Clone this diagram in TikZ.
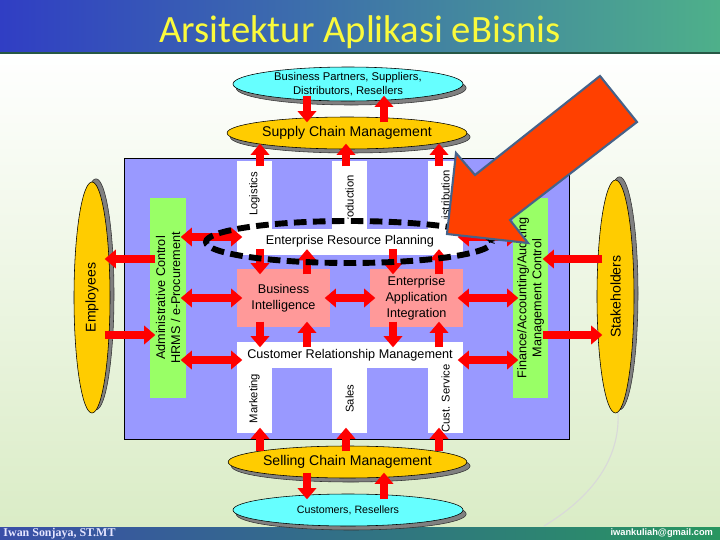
\documentclass[tikz,border=0pt]{standalone}
\usepackage{fontspec}
\usepackage{graphicx}
\setmainfont{Liberation Sans}
\newfontfamily\ttlfont{Carlito}
\newfontfamily\authfont{Liberation Serif}
\usetikzlibrary{shapes.geometric, arrows.meta, shadows}

\definecolor{barblue}{RGB}{48,62,196}
\definecolor{barmid}{RGB}{44,146,204}
\definecolor{bargreen}{RGB}{78,176,138}
\definecolor{footblue}{RGB}{58,78,168}
\definecolor{footmid}{RGB}{40,140,150}
\definecolor{footgreen}{RGB}{40,150,96}
\definecolor{ttlyellow}{RGB}{250,250,60}
\definecolor{bggreen}{RGB}{218,236,198}
\definecolor{coreblue}{RGB}{153,153,255}
\definecolor{boxpink}{RGB}{255,153,153}
\definecolor{boxgreen}{RGB}{153,255,102}
\definecolor{ellyellow}{RGB}{255,204,0}
\definecolor{ellcyan}{RGB}{102,255,255}
\definecolor{bigred}{RGB}{255,64,0}
\definecolor{bigedge}{RGB}{70,98,137}

\tikzset{
  ellbox/.style={ellipse, draw=black, thin, inner sep=0pt},
  hshade/.style={drop shadow={shadow xshift=0.08cm, shadow yshift=-0.1cm, fill=black!50, draw=black!80, opacity=1}},
  vshade/.style={drop shadow={shadow xshift=0.1cm, shadow yshift=0.08cm, fill=black!50, draw=black!80, opacity=1}},
  whitebox/.style={rectangle, fill=white, inner sep=0pt},
  colbox/.style={whitebox, minimum width=0.875cm},
  bandbox/.style={whitebox, minimum width=5.65cm, minimum height=0.65cm, font=\fontsize{9}{11}\selectfont},
  pinkbx/.style={rectangle, fill=boxpink, minimum width=2.325cm, minimum height=1.45cm, align=center, inner sep=0pt, font=\fontsize{9}{11.5}\selectfont},
  greenbx/.style={rectangle, fill=boxgreen, minimum height=5cm, inner sep=0pt},
  coltxt/.style={rotate=90, inner sep=0pt, font=\fontsize{8}{10}\selectfont},
  sidetxt/.style={rotate=90, align=center, inner sep=0pt, font=\fontsize{9}{10.7}\selectfont},
  rarr/.style={draw=red, line width=5.6pt, -{Triangle[width=13pt, length=8pt]}, shorten >=-4pt, shorten <=-4pt},
  rdarr/.style={rarr, {Triangle[width=13pt, length=8pt]}-{Triangle[width=13pt, length=8pt]}},
  ring/.style={ellipse, draw=black, line width=4.2pt, dash pattern=on 9pt off 4.5pt, minimum width=7.15cm, minimum height=1.05cm},
}

\begin{document}
\begin{tikzpicture}
  \useasboundingbox (0,0) rectangle (18,-13.5);

  % --- SLIDE ---
  \shade[top color=white, bottom color=bggreen] (0,-1.3) rectangle (18,-13.2);
  \draw[black!15, line width=0.8pt] (13.6,-13.15) .. controls (15.0,-12.3) and (15.5,-11.3) .. (15.45,-10.3);
  \shade[left color=barblue, middle color=barmid, right color=bargreen] (0,0) rectangle (18,-1.325);
  \draw[bargreen!50!black, line width=1pt] (0,-1.325) -- (18,-1.325);
  \node[anchor=base, text=ttlyellow, font=\ttlfont\fontsize{27.5}{30}\selectfont] (ttl) at (9,-1.05) {Arsitektur Aplikasi eBisnis};
  \shade[left color=footblue, middle color=footmid, right color=footgreen] (0,-13.175) rectangle (18,-13.5);
  \node[anchor=west, text=blue!10, font=\authfont\bfseries\fontsize{8.5}{9}\selectfont, inner sep=0pt] (auth) at (0.08,-13.34) {Iwan Sonjaya, ST.MT};
  \node[anchor=east, text=white, font=\bfseries\fontsize{6.6}{8}\selectfont, inner sep=0pt] (mail) at (17.83,-13.34) {iwankuliah@gmail.com};

  % --- CORE SYSTEMS ---
  \node[rectangle, draw=black, thin, fill=coreblue, minimum width=11.125cm, minimum height=7.025cm] (core) at (8.6625,-7.4625) {};
  \node[colbox, minimum height=1.725cm] (logi) at (6.3625,-4.8875) {};
  \node[colbox, minimum height=1.725cm] (prod) at (8.7375,-4.8875) {};
  \node[colbox, minimum height=1.725cm] (dist) at (11.1375,-4.8875) {};
  \node[bandbox] (erp) at (8.75,-6.0375) {Enterprise Resource Planning};
  \node[bandbox] (crm) at (8.75,-8.875) {Customer Relationship Management};
  \node[colbox, minimum height=1.625cm] (mkt) at (6.3625,-10.0125) {};
  \node[colbox, minimum height=1.625cm] (sales) at (8.7375,-10.0125) {};
  \node[colbox, minimum height=1.625cm] (csvc) at (11.1375,-10.0125) {};

  \begin{scope}
    \clip (5.8,-3.9) rectangle (11.7,-5.45);
    \node[coltxt, anchor=east] (logiT) at ([yshift=-0.275cm]logi.north) {Logistics};
    \node[coltxt, anchor=east] (prodT) at ([yshift=-0.35cm]prod.north) {Production};
    \node[coltxt, anchor=east] (distT) at ([yshift=-0.225cm]dist.north) {Distribution};
  \end{scope}
  \node[coltxt] (mktT) at ([yshift=0.05cm]mkt.center) {Marketing};
  \node[coltxt] (salesT) at ([yshift=0.05cm]sales.center) {Sales};
  \node[coltxt] (csvcT) at ([yshift=0.05cm]csvc.center) {Cust. Service};

  \node[pinkbx] (bi) at (7.0875,-7.45) {Business\\Intelligence};
  \node[pinkbx] (eai) at (10.4125,-7.45) {Enterprise\\Application\\Integration};

  \node[greenbx, minimum width=0.9cm] (adm) at (4.2,-7.45) {};
  \node[sidetxt] (admT) at (adm) {Administrative Control\\HRMS / e-Procurement};
  \node[greenbx, minimum width=0.875cm] (fin) at (13.2625,-7.45) {};
  \node[sidetxt] (finT) at (fin) {Finance/Accounting/Auditing\\Management Control};

  % --- PARTNERS AND PEOPLE ---
  \node[ellbox, hshade, fill=ellcyan, minimum width=5.75cm, minimum height=0.85cm, align=center, font=\fontsize{8}{10}\selectfont] (partners) at (8.7,-2.1) {Business Partners, Suppliers,\\Distributors, Resellers};
  \node[ellbox, hshade, fill=ellyellow, minimum width=5.75cm, minimum height=0.8cm, font=\fontsize{10}{12}\selectfont] (scm) at (8.675,-3.325) {Supply Chain Management};
  \node[ellbox, hshade, fill=ellyellow, minimum width=5.725cm, minimum height=0.8cm, font=\fontsize{10}{12}\selectfont] (sell) at (8.6875,-11.55) {Selling Chain Management};
  \node[ellbox, hshade, fill=ellcyan, minimum width=5.75cm, minimum height=0.8cm, font=\fontsize{7.6}{9}\selectfont] (cust) at (8.7,-12.75) {Customers, Resellers};
  \node[ellbox, vshade, fill=ellyellow, minimum width=0.9cm, minimum height=5.775cm, font=\fontsize{10}{12}\selectfont] (emp) at (2.3,-7.4375) {\rotatebox{90}{Employees}};
  \node[ellbox, vshade, fill=ellyellow, minimum width=0.925cm, minimum height=5.825cm, font=\fontsize{10}{12}\selectfont] (stk) at (15.3875,-7.4125) {\rotatebox{90}{Stakeholders}};

  % --- FLOWS ---
  \coordinate (xa) at (6.5,0);
  \coordinate (xb) at (7.675,0);
  \coordinate (xc) at (8.65,0);
  \coordinate (xd) at (9.6,0);
  \coordinate (xe) at (9.825,0);
  \coordinate (xf) at (10.975,0);
  \coordinate (ya) at (0,-5.925);
  \coordinate (yb) at (0,-6.475);
  \coordinate (yc) at (0,-8.375);
  \coordinate (yd) at (0,-9.0);

  \draw[rarr] (partners.south -| xb) -- (scm.north -| xb);
  \draw[rarr] (scm.north -| xd) -- (partners.south -| xd);
  \draw[rarr] (logi.north -| xa) -- (scm.south -| xa);
  \draw[rarr] (prod.north -| xc) -- (scm.south -| xc);
  \draw[rarr] (dist.north -| xf) -- (scm.south -| xf);

  \draw[rarr] (erp.south -| xa) -- (bi.north -| xa);
  \draw[rarr] (bi.north -| xb) -- (erp.south -| xb);
  \draw[rarr] (erp.south -| xe) -- (eai.north -| xe);
  \draw[rarr] (eai.north -| xf) -- (erp.south -| xf);
  \draw[rarr] (bi.south -| xa) -- (crm.north -| xa);
  \draw[rarr] (crm.north -| xb) -- (bi.south -| xb);
  \draw[rarr] (eai.south -| xe) -- (crm.north -| xe);
  \draw[rarr] (crm.north -| xf) -- (eai.south -| xf);

  \draw[rarr] (sell.north -| xa) -- (mkt.south -| xa);
  \draw[rarr] (sell.north -| xc) -- (sales.south -| xc);
  \draw[rarr] (sell.north -| xf) -- (csvc.south -| xf);
  \draw[rarr] (sell.south -| xb) -- (cust.north -| xb);
  \draw[rarr] (cust.north -| xd) -- (sell.south -| xd);

  \draw[rdarr] (adm.east |- ya) -- (erp.west |- ya);
  \draw[rdarr] (adm.east |- bi) -- (bi.west);
  \draw[rdarr] (adm.east |- yd) -- (crm.west |- yd);
  \draw[rdarr] (bi.east) -- (eai.west);
  \draw[rdarr] (eai.east) -- (fin.west |- eai);
  \draw[rdarr] (crm.east |- yd) -- (fin.west |- yd);
  \draw[rdarr] (erp.east |- ya) -- (fin.west |- ya);

  \draw[rarr] (adm.west |- yb) -- (emp.east |- yb);
  \draw[rarr] (emp.east |- yc) -- (adm.west |- yc);
  \draw[rarr] (stk.west |- yb) -- (fin.east |- yb);
  \draw[rarr] (fin.east |- yc) -- (stk.west |- yc);

  % --- ERP FOCUS ---
  \node[ring] (erpring) at (8.725,-6.05) {};
  \draw[fill=bigred, draw=bigedge, line width=1.5pt] (15.0,-1.9) -- (15.925,-3.05) -- (12.75,-5.5) -- (13.2,-6.075)
    -- (11.175,-5.85) -- (11.4,-3.825) -- (11.875,-4.375) -- cycle;
\end{tikzpicture}
\end{document}
